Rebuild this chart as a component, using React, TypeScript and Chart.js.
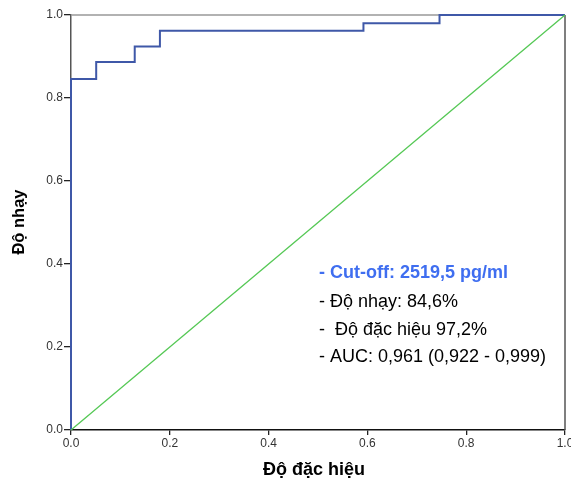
import React, { useEffect, useRef } from "react";
import { Chart, registerables } from "chart.js";

Chart.register(...registerables);

// ROC curve (1 - specificity on x, sensitivity on y), stepped
const rocFpr = [0, 0, 0.051, 0.129, 0.18, 0.592, 0.746, 1];
const rocTpr = [0, 0.846, 0.887, 0.924, 0.962, 0.98, 1, 1];
// reference diagonal
const diagX = [0, 1];
const diagY = [0, 1];
const tickValues = [0, 0.2, 0.4, 0.6, 0.8, 1.0];

const xTitle = "Độ đặc hiệu";
const yTitle = "Độ nhạy";
const noteLines = [
  "- Cut-off: 2519,5 pg/ml",
  "- Độ nhạy: 84,6%",
  "-  Độ đặc hiệu 97,2%",
  "- AUC: 0,961 (0,922 - 0,999)",
];

const FONT = "'Liberation Sans', Arial, sans-serif";

const overlay = {
  id: "overlay",
  beforeDatasetsDraw(chart: any) {
    const { ctx, chartArea } = chart;
    ctx.save();
    ctx.lineWidth = 1.5;
    ctx.strokeStyle = "#999999";
    ctx.beginPath();
    ctx.moveTo(chartArea.left, chartArea.top);
    ctx.lineTo(chartArea.right, chartArea.top);
    ctx.stroke();
    ctx.strokeStyle = "#555555";
    ctx.beginPath();
    ctx.moveTo(chartArea.right, chartArea.top);
    ctx.lineTo(chartArea.right, chartArea.bottom);
    ctx.stroke();
    ctx.restore();
  },
  afterDraw(chart: any) {
    const { ctx } = chart;
    ctx.save();
    ctx.fillStyle = "#000";
    ctx.font = `bold 18px ${FONT}`;
    ctx.textAlign = "center";
    ctx.textBaseline = "middle";
    ctx.fillText(xTitle, 314, 470);
    ctx.translate(19, 222);
    ctx.rotate(-Math.PI / 2);
    ctx.font = `bold 16.5px ${FONT}`;
    ctx.fillText(yTitle, 0, 0);
    ctx.restore();

    ctx.save();
    ctx.textAlign = "left";
    ctx.textBaseline = "middle";
    const ys = [273, 302, 330, 357];
    noteLines.forEach((t, i) => {
      if (i === 0) {
        ctx.font = `bold 18px ${FONT}`;
        ctx.fillStyle = "#3f6ef0";
      } else {
        ctx.font = `18px ${FONT}`;
        ctx.fillStyle = "#000";
      }
      ctx.fillText(t, 319, ys[i]);
    });
    ctx.restore();
  },
};

export default function App() {
  const ref = useRef<HTMLCanvasElement>(null);
  useEffect(() => {
    if (!ref.current) return;
    const chart = new Chart(ref.current, {
      type: "scatter",
      data: {
        datasets: [
          {
            data: diagX.map((x, i) => ({ x, y: diagY[i] })),
            showLine: true,
            borderColor: "#55c855",
            borderWidth: 1.3,
            pointRadius: 0,
            clip: false as any,
          },
          {
            data: rocFpr.map((x, i) => ({ x, y: rocTpr[i] })),
            showLine: true,
            stepped: "before",
            borderColor: "#3f58a8",
            borderWidth: 2,
            pointRadius: 0,
            clip: false as any,
          },
        ],
      },
      plugins: [overlay],
      options: {
        animation: false,
        responsive: false,
        maintainAspectRatio: false,
        layout: { padding: { top: 15, right: 6, left: 0, bottom: 0 } },
        plugins: { legend: { display: false }, tooltip: { enabled: false } },
        scales: {
          x: {
            type: "linear",
            min: 0,
            max: 1,
            afterBuildTicks: (s: any) => {
              s.ticks = tickValues.map((v) => ({ value: v }));
            },
            afterFit: (s: any) => {
              s.height = 50;
              s.paddingLeft = 0;
              s.paddingRight = 0;
            },
            grid: {
              drawOnChartArea: false,
              drawTicks: true,
              tickLength: 5,
              tickColor: "#222",
              lineWidth: 1.3,
            },
            border: { display: true, color: "#111", width: 1.5 },
            ticks: {
              padding: 1,
              color: "#333",
              font: { family: FONT, size: 12 },
              callback: (v: any) => Number(v).toFixed(1),
              maxRotation: 0,
              autoSkip: false,
            },
          },
          y: {
            type: "linear",
            min: 0,
            max: 1,
            afterBuildTicks: (s: any) => {
              s.ticks = tickValues.map((v) => ({ value: v }));
            },
            afterFit: (s: any) => {
              s.width = 71;
              s.paddingTop = 0;
              s.paddingBottom = 0;
            },
            grid: {
              drawOnChartArea: false,
              drawTicks: true,
              tickLength: 7,
              tickColor: "#222",
              lineWidth: 1.3,
            },
            border: { display: true, color: "#555", width: 1.5 },
            ticks: {
              padding: 1,
              color: "#333",
              font: { family: FONT, size: 12 },
              callback: (v: any) => Number(v).toFixed(1),
              autoSkip: false,
            },
          },
        },
      },
    } as any);
    return () => chart.destroy();
  }, []);
  return (
    <div style={{ position: "fixed", left: 0, top: 0, width: 571, height: 480, background: "#fff" }}>
      <canvas ref={ref} width={571} height={480} style={{ width: 571, height: 480 }} />
    </div>
  );
}
